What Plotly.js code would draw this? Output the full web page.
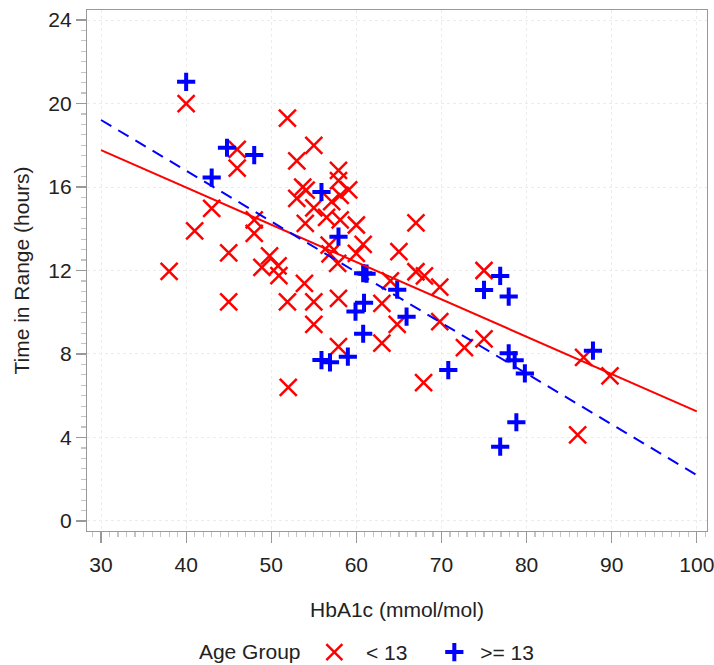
<!DOCTYPE html>
<html>
<head>
<meta charset="utf-8">
<script src="https://cdn.plot.ly/plotly-3.0.1.min.js"></script>
<style>html,body{margin:0;padding:0;background:#fff;}#chart{width:714px;height:665px;}</style>
</head>
<body>
<div id="chart"></div>
<script>
// Age group < 13 (red X)
const youngHbA1c = [40, 51.9, 55, 46, 53, 46, 57.9, 57.9, 53.7, 54.1, 59.1, 53, 58.1, 57.1, 55, 43, 56.5, 58.1, 54, 60, 67, 48, 41, 48, 60.8, 56.8, 65, 56.9, 60, 45, 49.8, 48.9, 50.8, 50.9, 38, 57.8, 67, 68, 64, 69.8, 53.9, 45, 51.9, 55, 57.9, 63, 55, 64.8, 69.8, 63, 57.9, 72.7, 52, 67.9, 75, 75, 86.7, 89.8, 86];
const youngTIR    = [20.0, 19.3, 18.0, 17.8, 17.25, 16.9, 16.8, 16.3, 16.0, 15.85, 15.86, 15.46, 15.6, 15.3, 15.0, 14.98, 14.55, 14.42, 14.26, 14.18, 14.28, 14.42, 13.9, 13.78, 13.25, 13.22, 12.9, 12.8, 12.82, 12.85, 12.7, 12.15, 12.22, 11.75, 11.96, 12.34, 11.94, 11.74, 11.5, 11.2, 11.38, 10.5, 10.5, 10.5, 10.67, 10.43, 9.42, 9.42, 9.55, 8.52, 8.35, 8.3, 6.4, 6.63, 12.0, 8.72, 7.84, 6.95, 4.12];
// Age group >= 13 (blue +)
const olderHbA1c = [40, 44.8, 48, 43, 55.9, 57.9, 60.8, 61.2, 64.8, 60.9, 59.9, 65.9, 60.8, 55.9, 56.9, 59.0, 70.8, 75, 76.9, 77.9, 77.9, 78.6, 79.8, 87.8, 78.8, 76.9];
const olderTIR    = [21.04, 17.88, 17.53, 16.45, 15.76, 13.62, 11.87, 11.85, 11.08, 10.45, 10.03, 9.79, 8.97, 7.71, 7.6, 7.87, 7.23, 11.07, 11.74, 10.75, 8.03, 7.7, 7.07, 8.16, 4.73, 3.56];
// Fitted regression lines (end points)
const fitX = [30, 100];
const fitYoung = [17.77, 5.25];
const fitOlder = [19.21, 2.2];
const legendLabels = ['< 13', '>= 13'];
const xTicks = [30, 40, 50, 60, 70, 80, 90, 100];
const yTicks = [0, 4, 8, 12, 16, 20, 24];

const FONT = 'Liberation Sans, Arial, sans-serif';
const FS = 21;
const data = [
  {x: youngHbA1c, y: youngTIR, type: 'scatter', mode: 'markers', name: '\u00a0\u00a0' + legendLabels[0],
   marker: {symbol: 'x-thin-open', size: 17, color: '#ff0000', line: {color: '#ff0000', width: 2.5}}},
  {x: olderHbA1c, y: olderTIR, type: 'scatter', mode: 'markers', name: '\u00a0' + legendLabels[1],
   marker: {symbol: 'cross-thin-open', size: 13, color: '#0000ff', line: {color: '#0000ff', width: 4}}},
  {x: fitX, y: fitYoung, type: 'scatter', mode: 'lines', showlegend: false, hoverinfo: 'skip',
   line: {color: '#ff0000', width: 2}},
  {x: fitX, y: fitOlder, type: 'scatter', mode: 'lines', showlegend: false, hoverinfo: 'skip',
   line: {color: '#0000ff', width: 2, dash: '12px,8px'}}
];
const axisCommon = {
  showline: true, mirror: true, linecolor: '#999999', linewidth: 1.2,
  ticks: 'outside', ticklen: 11, tickcolor: '#999999', tickwidth: 1.2,
  showgrid: true, gridcolor: '#ececec', griddash: 'dot', gridwidth: 1,
  zeroline: false, tickfont: {family: FONT, size: FS, color: '#222'},
  ticklabeloverflow: 'allow', automargin: false
};
const layout = {
  width: 714, height: 665,
  margin: {l: 87, r: 7, t: 10, b: 134, autoexpand: false},
  paper_bgcolor: '#fff', plot_bgcolor: '#fff',
  font: {family: FONT, size: FS, color: '#222'},
  xaxis: Object.assign({}, axisCommon, {
    range: [28.35, 101.2], tickvals: xTicks, ticktext: xTicks.map(String),
    ticklabelstandoff: 4,
    minor: {dtick: 1, ticklen: 5, tickcolor: '#c4c4c4', showgrid: false, ticks: 'outside'},
    title: {text: 'HbA1c (mmol/mol)', font: {family: FONT, size: FS, color: '#222'}, standoff: 26}
  }),
  yaxis: Object.assign({}, axisCommon, {
    range: [-0.48, 24.48], tickvals: yTicks, ticktext: yTicks.map(String),
    ticklen: 10,
    minor: {dtick: 0.5, ticklen: 5, tickcolor: '#c4c4c4', showgrid: false, ticks: 'outside'},
    title: {text: 'Time in Range (hours)', font: {family: FONT, size: FS, color: '#222'}, standoff: 12}
  }),
  legend: {
    orientation: 'h', x: 0.466, xanchor: 'center', y: -0.233, yanchor: 'middle',
    title: {text: 'Age Group ', side: 'left', font: {family: FONT, size: FS, color: '#222'}},
    font: {family: FONT, size: FS, color: '#222'}, bgcolor: 'rgba(0,0,0,0)',
    entrywidth: 75, entrywidthmode: 'pixels', itemwidth: 30
  },
  showlegend: true
};
Plotly.newPlot('chart', data, layout, {displayModeBar: false, staticPlot: true});
</script>
</body>
</html>
